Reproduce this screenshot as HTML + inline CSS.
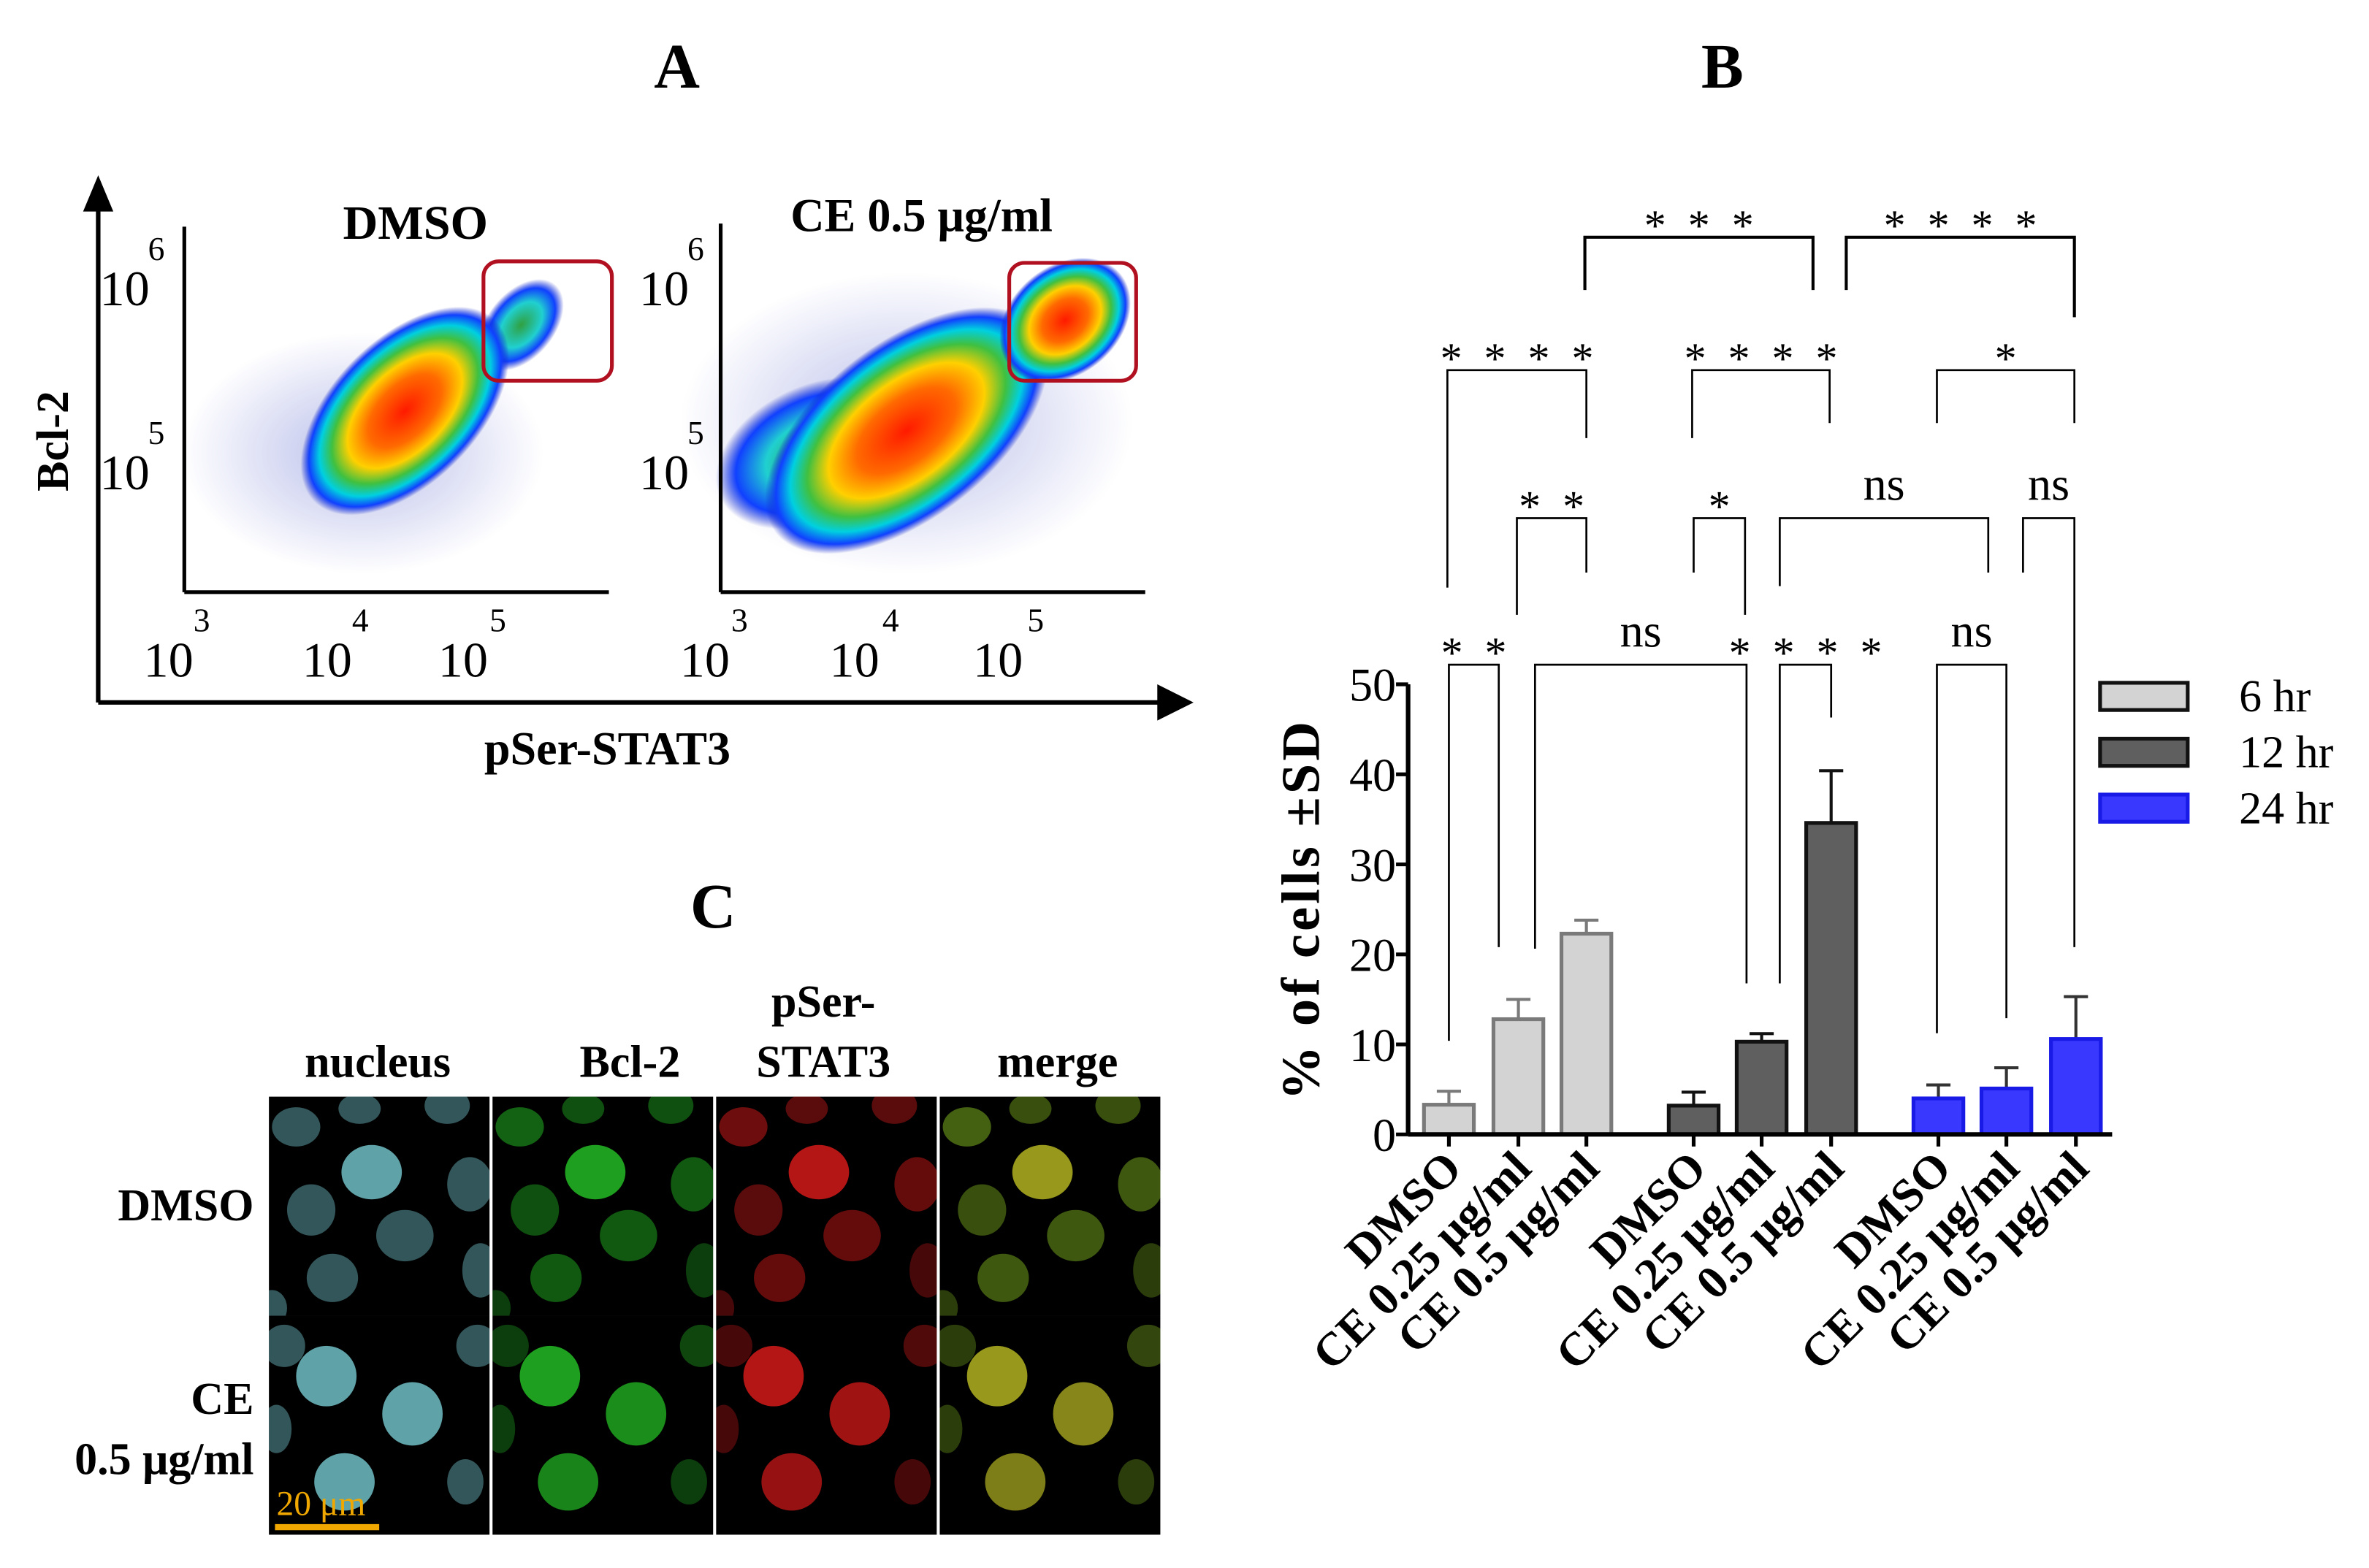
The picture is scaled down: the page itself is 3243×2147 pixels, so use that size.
<!DOCTYPE html>
<html><head><meta charset="utf-8">
<style>
html,body{margin:0;padding:0;background:#fff;}
svg{display:block;}
text{font-family:"Liberation Serif",serif;}
</style></head>
<body>
<svg id="fig" width="3243" height="2147" viewBox="0 0 1568 1038" xmlns="http://www.w3.org/2000/svg">
<defs>
  <radialGradient id="dens" cx="50%" cy="50%" r="50%">
    <stop offset="0" stop-color="#ff1a00"/>
    <stop offset="0.35" stop-color="#ff6a00"/>
    <stop offset="0.55" stop-color="#ffd000"/>
    <stop offset="0.7" stop-color="#40c040"/>
    <stop offset="0.82" stop-color="#00d0e0"/>
    <stop offset="0.92" stop-color="#1040ff"/>
    <stop offset="1" stop-color="#1020c0" stop-opacity="0"/>
  </radialGradient>
  <radialGradient id="densG" cx="50%" cy="50%" r="50%">
    <stop offset="0" stop-color="#30a040"/>
    <stop offset="0.5" stop-color="#20d0d0"/>
    <stop offset="0.8" stop-color="#1040ff"/>
    <stop offset="1" stop-color="#1020c0" stop-opacity="0"/>
  </radialGradient>
  <radialGradient id="haze" cx="50%" cy="50%" r="50%">
    <stop offset="0" stop-color="#3040c0" stop-opacity="0.35"/>
    <stop offset="1" stop-color="#3040c0" stop-opacity="0"/>
  </radialGradient>
</defs>

<text x="448" y="58" font-size="42" font-weight="bold" text-anchor="middle">A</text>
<text x="1140" y="58" font-size="42" font-weight="bold" text-anchor="middle">B</text>
<text x="472" y="614" font-size="42" font-weight="bold" text-anchor="middle">C</text>

<g>
  <line x1="65" y1="465" x2="65" y2="138" stroke="#000" stroke-width="3"/>
  <path d="M55,140 L65,116 L75,140z" fill="#000"/>
  <line x1="65" y1="465" x2="768" y2="465" stroke="#000" stroke-width="3"/>
  <path d="M766,453 L790,465 L766,477z" fill="#000"/>
  <text transform="translate(45,292) rotate(-90)" font-size="30" font-weight="bold" text-anchor="middle">Bcl-2</text>
  <text x="402" y="506" font-size="31" font-weight="bold" text-anchor="middle">pSer-STAT3</text>

  <g>
    <ellipse cx="240" cy="300" rx="120" ry="80" fill="url(#haze)"/>
    <ellipse cx="345" cy="215" rx="35" ry="22" transform="rotate(-50 345 215)" fill="url(#densG)"/>
    <ellipse cx="268" cy="272" rx="85" ry="48" transform="rotate(-45 268 272)" fill="url(#dens)"/>
    <line x1="122" y1="150" x2="122" y2="392" stroke="#000" stroke-width="2.5"/>
    <line x1="122" y1="392" x2="403" y2="392" stroke="#000" stroke-width="2.5"/>
    <rect x="320" y="173" width="85" height="79" rx="10" fill="none" stroke="#b01020" stroke-width="2.5"/>
    <text x="275" y="158" font-size="32" font-weight="bold" text-anchor="middle">DMSO</text>
    <text x="66" y="202" font-size="33">10</text><text x="98" y="172" font-size="22">6</text>
    <text x="66" y="324" font-size="33">10</text><text x="98" y="294" font-size="22">5</text>
    <text x="95" y="448" font-size="33">10</text><text x="128" y="418" font-size="22">3</text>
    <text x="200" y="448" font-size="33">10</text><text x="233" y="418" font-size="22">4</text>
    <text x="290" y="448" font-size="33">10</text><text x="324" y="418" font-size="22">5</text>
  </g>
  <g>
    <ellipse cx="600" cy="280" rx="150" ry="100" fill="url(#haze)"/>
    <ellipse cx="540" cy="300" rx="70" ry="45" transform="rotate(-25 540 300)" fill="url(#densG)"/>
    <ellipse cx="600" cy="285" rx="110" ry="58" transform="rotate(-38 600 285)" fill="url(#dens)"/>
    <ellipse cx="705" cy="212" rx="48" ry="36" transform="rotate(-40 705 212)" fill="url(#dens)"/>
    <line x1="477" y1="148" x2="477" y2="392" stroke="#000" stroke-width="2.5"/>
    <line x1="477" y1="392" x2="758" y2="392" stroke="#000" stroke-width="2.5"/>
    <rect x="668" y="174" width="84" height="78" rx="10" fill="none" stroke="#b01020" stroke-width="2.5"/>
    <text x="610" y="153" font-size="31" font-weight="bold" text-anchor="middle">CE 0.5 μg/ml</text>
    <text x="423" y="202" font-size="33">10</text><text x="455" y="172" font-size="22">6</text>
    <text x="423" y="324" font-size="33">10</text><text x="455" y="294" font-size="22">5</text>
    <text x="450" y="448" font-size="33">10</text><text x="484" y="418" font-size="22">3</text>
    <text x="549" y="448" font-size="33">10</text><text x="584" y="418" font-size="22">4</text>
    <text x="644" y="448" font-size="33">10</text><text x="680" y="418" font-size="22">5</text>
  </g>
</g>

<g id="panelC">
  <text x="250" y="713" font-size="30" font-weight="bold" text-anchor="middle">nucleus</text>
  <text x="417" y="713" font-size="30" font-weight="bold" text-anchor="middle">Bcl-2</text>
  <text x="545" y="673" font-size="30" font-weight="bold" text-anchor="middle">pSer-</text>
  <text x="545" y="713" font-size="30" font-weight="bold" text-anchor="middle">STAT3</text>
  <text x="700" y="713" font-size="30" font-weight="bold" text-anchor="middle">merge</text>
  <text x="168" y="808" font-size="30" font-weight="bold" text-anchor="end">DMSO</text>
  <text x="168" y="936" font-size="30" font-weight="bold" text-anchor="end">CE</text>
  <text x="168" y="976" font-size="30" font-weight="bold" text-anchor="end">0.5 μg/ml</text>
  <g id="cells"></g>
  <line x1="182" y1="1011" x2="251" y2="1011" stroke="#f0a800" stroke-width="4"/>
  <text x="183" y="1003" font-size="23" fill="#f0a800">20 μm</text>
</g>

<g id="chartB"></g>
</svg>

<script>
const categories = ["DMSO","CE 0.25 μg/ml","CE 0.5 μg/ml","DMSO","CE 0.25 μg/ml","CE 0.5 μg/ml","DMSO","CE 0.25 μg/ml","CE 0.5 μg/ml"];
const groups = ["6 hr","12 hr","24 hr"];
const values6 = [3.3, 12.8, 22.3];
const values12 = [3.2, 10.3, 34.6];
const values24 = [4.0, 5.1, 10.6];
const sd6 = [1.5, 2.2, 1.5];
const sd12 = [1.5, 0.9, 5.8];
const sd24 = [1.5, 2.3, 4.7];
const yTicks = [0,10,20,30,40,50];
const sigFrom = [0,2,4,6, 1,3,4,7, 0,3,6, 2,7];
const sigTo   = [1,5,5,7, 2,4,7,8, 2,5,8, 5,8];
const sigLevel= [0,0,0,0, 1,1,1,1, 2,2,2, 3,3];
const sigLabel= ["*  *","ns","*  *  *  *","ns","*  *","*","ns","ns","*  *  *  *","*  *  *  *","*","*  *  *","*  *  *  *"];

const NS = "http://www.w3.org/2000/svg";
const g = document.getElementById("chartB");
function mk(tag, attrs, parent){const e=document.createElementNS(NS,tag);for(const k in attrs)e.setAttribute(k,attrs[k]);(parent||g).appendChild(e);return e;}

const X0 = 932, X1 = 1398, Y0 = 751, Y50 = 453;
const yScale = v => Y0 - (v/50)*(Y0-Y50);
const barCenters = [959,1005,1050,1121,1166,1212,1283,1328,1374];
const xScale = i => barCenters[i];
const BW = 33;
const fills = ["#d3d3d3","#5f5f5f","#3838ff"];
const strokes = ["#7a7a7a","#111111","#1a1ae6"];
const allVals = [values6, values12, values24];
const allSd = [sd6, sd12, sd24];

yTicks.forEach(t=>{
  const y=yScale(t);
  const tk=mk("line",{x1:X0-8,y1:y,x2:X0,y2:y,stroke:"#000","stroke-width":2.5});
  
  
  const lb=mk("text",{x:X0-8,y:y+11,"font-size":31,"text-anchor":"end"});
  lb.textContent=t;
  
  
});
const ya=mk("line",{x1:X0,y1:Y50,x2:X0,y2:Y0,stroke:"#000","stroke-width":3});


const yt=mk("text",{transform:"translate(873,602) rotate(-90)","font-size":36,"font-weight":"bold","text-anchor":"middle","letter-spacing":"2"});
yt.textContent="% of cells  ±SD";



for(let gi=0;gi<3;gi++){
  for(let j=0;j<3;j++){
    const i=gi*3+j, v=allVals[gi][j], sd=allSd[gi][j], cx=xScale(i);
    const eb=mk("path",{d:`M${cx},${yScale(v)} V${yScale(v+sd)} M${cx-8},${yScale(v+sd)} H${cx+8}`,stroke:gi===2?"#333":strokes[gi],"stroke-width":2,fill:"none"});
    
    
    const r=mk("rect",{x:cx-BW/2,y:yScale(v),width:BW,height:Y0-yScale(v),fill:fills[gi],stroke:strokes[gi],"stroke-width":2.5});
    
    
    const tk=mk("line",{x1:cx,y1:Y0,x2:cx,y2:Y0+8,stroke:"#000","stroke-width":2.5});
    
    
    const lb=mk("text",{transform:`translate(${cx+10},${Y0+24}) rotate(-45)`,"font-size":31,"font-weight":"bold","text-anchor":"end"});
    lb.textContent=categories[i];
    
    
  }
}
const xa=mk("line",{x1:X0,y1:Y0,x2:X1,y2:Y0,stroke:"#000","stroke-width":3});



const legY=[461,498,535];
groups.forEach((name,gi)=>{
  const r=mk("rect",{x:1390,y:legY[gi]-9,width:58,height:18,fill:fills[gi],stroke:gi===2?strokes[gi]:"#111","stroke-width":2.5});
  
  
  const t=mk("text",{x:1482,y:legY[gi]+10,"font-size":30});
  t.textContent=name;
  
  
});

const levelY=[440,343,245,157];
const legEnd = { "0-0":[689,627], "0-1":[628,651], "0-2":[651,475], "0-3":[684,674],
  "1-0":[407,379], "1-1":[379,407], "1-2":[388,379], "1-3":[379,627],
  "2-0":[389,290], "2-1":[290,280], "2-2":[280,280],
  "3-0":[192,192], "3-1":[192,210] };
const bx = {"0-0":[959,992],"0-1":[1016,1156],"0-2":[1178,1212],"0-3":[1282,1328],
  "1-0":[1004,1050],"1-1":[1121,1155],"1-2":[1178,1316],"1-3":[1339,1373],
  "2-0":[958,1050],"2-1":[1120,1211],"2-2":[1282,1373],
  "3-0":[1049,1200],"3-1":[1222,1373]};
const cnt=[0,0,0,0];
sigFrom.forEach((f,k)=>{
  const lv=sigLevel[k], key=lv+"-"+(cnt[lv]++);
  const [xa1,xb1]=bx[key]||[xScale(f),xScale(sigTo[k])];
  const [ya1,yb1]=legEnd[key];
  const y=levelY[lv];
  const p=mk("path",{d:`M${xa1},${ya1} V${y} H${xb1} V${yb1}`,fill:"none",stroke:"#000","stroke-width":lv===3?2:1.3});
  
  
  const isNs=sigLabel[k]==="ns";
  const t=mk("text",{x:(xa1+xb1)/2,y:isNs?y-12:y+2,"font-size":isNs?31:29,"text-anchor":"middle","xml:space":"preserve","style":"white-space:pre"});
  t.textContent=sigLabel[k];
  
  
});

const cg=document.getElementById("cells");
const colX=[178,326,474,622], rowY=[726,871], PW=146, PH=145;
const row1Cells=[[18,20,16,13,0.55],[60,8,14,10,0.45],[118,6,15,12,0.45],[68,50,20,18,0.9],[133,58,15,18,0.5],[28,75,16,17,0.45],[90,92,19,17,0.5],[42,120,17,16,0.5],[140,115,12,18,0.35],[2,140,10,12,0.35]];
const row2Cells=[[10,20,14,14,0.35],[138,20,14,14,0.4],[38,40,20,20,0.9],[95,65,20,21,0.8],[5,75,10,16,0.35],[50,110,20,19,0.75],[130,110,12,15,0.35]];
const colColors=["#7fd8e0","#22b022","#c81818","#7cb020"];
colX.forEach((cx,ci)=>{
  rowY.forEach((ry,ri)=>{
    const bg=mk("rect",{x:cx,y:ry,width:PW,height:PH,fill:"#000"},cg);
    
    
    const cells=ri===0?row1Cells:row2Cells;
    const cp=mk("clipPath",{id:`cp${ci}${ri}`},cg);
    mk("rect",{x:cx,y:ry,width:PW,height:PH},cp);
    const gg=mk("g",{"clip-path":`url(#cp${ci}${ri})`},cg);
    cells.forEach(c=>{
      let col=colColors[ci];
      if(ci===3 && c[4]>0.7) col="#a8a820";
      mk("ellipse",{cx:cx+c[0],cy:ry+c[1],rx:c[2],ry:c[3],fill:col,opacity:ci===0?(c[4]>0.7?0.75:0.4):c[4]},gg);
    });
  });
});
</script>
</body></html>
